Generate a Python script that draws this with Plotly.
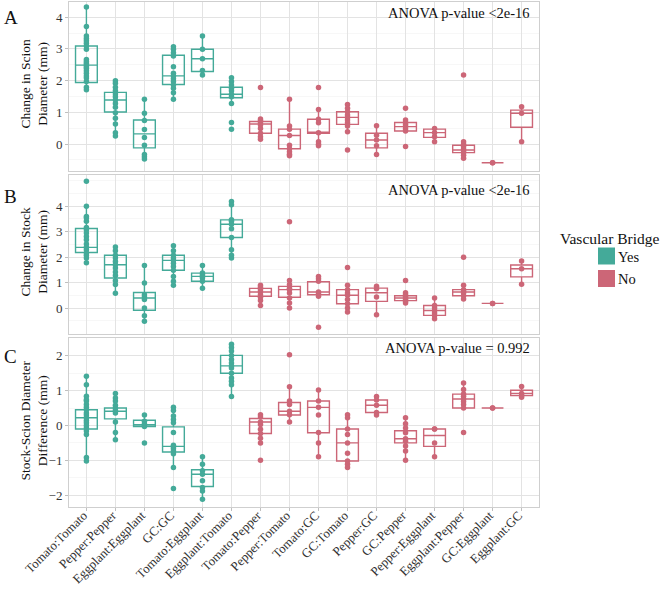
import plotly.graph_objects as go

categories = ["Tomato:Tomato", "Pepper:Pepper", "Eggplant:Eggplant", "GC:GC",
              "Tomato:Eggplant", "Eggplant:Tomato", "Tomato:Pepper", "Pepper:Tomato",
              "Tomato:GC", "GC:Tomato", "Pepper:GC", "GC:Pepper", "Pepper:Eggplant",
              "Eggplant:Pepper", "GC:Eggplant", "Eggplant:GC"]
bridge = ["Yes"] * 6 + ["No"] * 10

# ---- Panel A: change in scion diameter ----
scion_points = [
    [4.32, 3.71, 3.41, 3.33, 3.26, 3.18, 3.09, 2.99, 2.67, 2.6, 2.55, 2.49, 2.44, 2.39, 2.31, 2.23, 2.15, 2.08, 1.97, 1.79, 1.71],
    [2.0, 1.92, 1.79, 1.68, 1.58, 1.49, 1.39, 1.28, 1.16, 0.99, 0.81, 0.63, 0.36, 0.25],
    [1.41, 0.97, 0.74, 0.46, 0.21, -0.04, -0.33, -0.4, -0.47],
    [3.07, 2.99, 2.88, 2.78, 2.44, 2.23, 2.15, 2.06, 1.97, 1.86, 1.76, 1.62, 1.41],
    [3.41, 2.99, 2.69, 2.32, 2.18],
    [2.09, 1.97, 1.86, 1.76, 1.68, 1.57, 1.49, 1.28, 0.68, 0.47],
    [1.78, 0.79, 0.74, 0.67, 0.6, 0.49, 0.34, 0.23, 0.15],
    [1.41, 0.57, 0.47, 0.27, -0.04, -0.15, -0.24, -0.32, -0.37],
    [1.78, 1.09, 0.78, 0.67, 0.36, 0.07, -0.01, -0.05],
    [1.25, 1.13, 1.02, 0.92, 0.84, 0.76, 0.67, 0.57, 0.39, -0.19],
    [0.58, 0.28, 0.13, -0.05, -0.33],
    [1.13, 0.76, 0.68, 0.62, 0.55, 0.48, 0.41, -0.08],
    [0.49, 0.36, 0.23, 0.07],
    [2.18, 0.07, -0.01, -0.08, -0.16, -0.21, -0.27, -0.35, -0.45],
    [-0.59, -0.59],
    [1.18, 0.97, 0.07],
]
scion_q1 = [1.94, 1.01, -0.12, 1.88, 2.29, 1.46, 0.34, -0.15, 0.34, 0.62, -0.12, 0.41, 0.21, -0.27, -0.59, 0.53]
scion_med = [2.49, 1.39, 0.32, 2.15, 2.69, 1.57, 0.63, 0.27, 0.36, 0.84, 0.13, 0.55, 0.36, -0.19, -0.59, 0.97]
scion_q3 = [3.09, 1.63, 0.76, 2.80, 2.99, 1.79, 0.71, 0.47, 0.78, 1.02, 0.34, 0.68, 0.47, -0.04, -0.59, 1.07]
scion_lo = [1.68, 0.25, -0.47, 1.41, 2.18, 1.28, 0.15, -0.37, -0.05, 0.39, -0.33, 0.41, 0.07, -0.45, -0.59, 0.07]
scion_hi = [4.32, 2.0, 1.41, 3.07, 3.41, 2.09, 0.79, 1.41, 1.09, 1.25, 0.58, 0.76, 0.49, 0.07, -0.59, 1.18]

# ---- Panel B: change in stock diameter ----
stock_points = [
    [4.97, 3.99, 3.59, 3.53, 3.4, 3.16, 3.07, 2.94, 2.81, 2.68, 2.51, 2.38, 2.29, 2.16, 2.07, 1.96, 1.78],
    [2.39, 2.25, 2.07, 1.96, 1.83, 1.7, 1.57, 1.41, 1.28, 1.07, 0.92, 0.58],
    [1.67, 0.98, 0.52, 0.43, 0.33, 0.0, -0.3, -0.52],
    [2.44, 2.25, 2.07, 1.96, 1.87, 1.76, 1.63, 1.48, 1.24, 1.05, 0.89],
    [1.67, 1.37, 1.31, 1.24, 1.18, 1.05, 0.78],
    [4.18, 4.05, 3.46, 3.4, 3.29, 3.11, 2.77, 2.29, 2.07, 1.96],
    [0.89, 0.81, 0.72, 0.63, 0.52, 0.42, 0.29, 0.1],
    [3.39, 1.08, 0.92, 0.78, 0.72, 0.59, 0.39, 0.2, 0.0],
    [1.24, 1.15, 1.05, 0.63, 0.55, 0.46, -0.76],
    [1.59, 0.89, 0.72, 0.59, 0.5, 0.33, 0.17, 0.0, -0.16],
    [0.85, 0.76, 0.43, -0.26],
    [1.08, 0.6, 0.52, 0.46, 0.39, 0.33, 0.26, 0.2],
    [0.39, 0.1, 0.0, -0.1, -0.2, -0.29, -0.42],
    [1.99, 0.89, 0.72, 0.65, 0.59, 0.48, 0.35],
    [0.18, 0.18],
    [1.84, 1.54, 0.93],
]
stock_q1 = [2.18, 1.18, -0.09, 1.48, 1.05, 2.77, 0.46, 0.42, 0.52, 0.17, 0.26, 0.29, -0.29, 0.48, 0.18, 1.22]
stock_med = [2.38, 1.70, 0.39, 1.87, 1.24, 3.29, 0.63, 0.72, 0.63, 0.50, 0.60, 0.39, -0.10, 0.63, 0.18, 1.54]
stock_q3 = [3.12, 2.07, 0.61, 2.07, 1.37, 3.46, 0.77, 0.85, 1.03, 0.72, 0.78, 0.48, 0.10, 0.72, 0.18, 1.69]
stock_lo = [1.78, 0.58, -0.52, 0.89, 0.78, 1.96, 0.10, 0.0, 0.46, -0.16, -0.26, 0.20, -0.42, 0.35, 0.18, 0.93]
stock_hi = [3.99, 2.39, 1.67, 2.44, 1.67, 4.18, 0.89, 1.08, 1.24, 0.89, 0.85, 0.60, 0.39, 0.89, 0.18, 1.84]

# ---- Panel C: stock-scion diameter difference ----
diff_points = [
    [1.41, 1.17, 0.84, 0.74, 0.7, 0.6, 0.52, 0.45, 0.36, 0.3, 0.22, 0.14, 0.08, 0.0, -0.07, -0.16, -0.26, -0.92, -1.02],
    [0.92, 0.79, 0.7, 0.58, 0.5, 0.43, 0.36, 0.1, -0.2, -0.41],
    [0.3, 0.12, 0.05, 0.0, -0.03, -0.5],
    [0.52, 0.43, 0.27, 0.17, 0.08, -0.2, -0.57, -0.62, -0.67, -0.73, -0.81, -1.21, -1.81],
    [-0.9, -1.11, -1.3, -1.4, -1.59, -1.78, -1.88, -2.12],
    [2.33, 2.24, 2.14, 2.01, 1.89, 1.79, 1.71, 1.65, 1.5, 1.36, 1.27, 1.17, 0.83],
    [0.31, 0.24, 0.1, 0.03, -0.11, -0.23, -0.37, -0.5, -1.0],
    [2.03, 1.11, 0.7, 0.6, 0.41, 0.31, 0.1],
    [1.02, 0.7, 0.52, 0.3, -0.2, -0.5, -0.9],
    [0.31, 0.22, -0.1, -0.26, -0.5, -0.8, -1.02, -1.11, -1.21],
    [0.83, 0.73, 0.58, 0.37, 0.3],
    [0.22, 0.05, -0.07, -0.21, -0.38, -0.45, -0.59, -0.73, -1.0],
    [-0.1, -0.1, -0.5, -0.9],
    [1.22, 1.03, 0.9, 0.84, 0.76, 0.69, 0.6, 0.5, -0.2],
    [0.5, 0.5],
    [1.12, 0.92, 0.86, 0.81],
]
diff_q1 = [-0.10, 0.19, -0.03, -0.76, -1.75, 1.50, -0.23, 0.30, -0.21, -1.02, 0.37, -0.50, -0.60, 0.50, 0.50, 0.86]
diff_med = [0.22, 0.41, 0.02, -0.60, -1.40, 1.71, 0.10, 0.41, 0.52, -0.50, 0.58, -0.38, -0.29, 0.76, 0.50, 0.92]
diff_q3 = [0.45, 0.50, 0.15, -0.04, -1.27, 2.01, 0.20, 0.66, 0.70, -0.10, 0.73, -0.15, -0.10, 0.90, 0.50, 1.01]
diff_lo = [-1.02, -0.41, -0.03, -1.21, -2.12, 0.83, -0.50, 0.10, -0.90, -1.21, 0.30, -1.00, -0.90, 0.50, 0.50, 0.81]
diff_hi = [1.41, 0.92, 0.30, 0.52, -0.90, 2.33, 0.31, 1.11, 1.02, 0.31, 0.83, 0.22, -0.10, 1.22, 0.50, 1.12]

panel_titles = ["Change in Scion<br>Diameter (mm)", "Change in Stock<br>Diameter (mm)",
                "Stock-Scion Diameter<br>Difference (mm)"]
panel_letters = ["A", "B", "C"]
anova_labels = ["ANOVA p-value <2e-16", "ANOVA p-value <2e-16", "ANOVA p-value = 0.992"]
y_ranges = [[-0.85, 4.48], [-1.02, 5.22], [-2.34, 2.51]]
y_ticks = [[0, 1, 2, 3, 4], [0, 1, 2, 3, 4], [-2, -1, 0, 1, 2]]

colors = {"Yes": "#44AA99", "No": "#CC6677"}
legend_labels = ["Yes", "No"]

W, H = 666, 590
SERIF = "Liberation Serif, Times New Roman, serif"

panels = [
    (scion_points, scion_q1, scion_med, scion_q3, scion_lo, scion_hi),
    (stock_points, stock_q1, stock_med, stock_q3, stock_lo, stock_hi),
    (diff_points, diff_q1, diff_med, diff_q3, diff_lo, diff_hi),
]
# panel vertical extents in pixels (top, bottom)
panel_px = [(2, 171), (175, 334), (338, 507)]
x_px = (69, 539)

fig = go.Figure()
for p, (pts, q1, med, q3, lo, hi) in enumerate(panels):
    xa = "x" if p == 0 else f"x{p + 1}"
    ya = "y" if p == 0 else f"y{p + 1}"
    for grp in legend_labels:
        idx = [i for i, b in enumerate(bridge) if b == grp]
        fig.add_trace(go.Box(
            x=[categories[i] for i in idx],
            q1=[q1[i] for i in idx], median=[med[i] for i in idx],
            q3=[q3[i] for i in idx], lowerfence=[lo[i] for i in idx],
            upperfence=[hi[i] for i in idx],
            width=0.75, whiskerwidth=0, boxpoints=False,
            fillcolor="rgba(255,255,255,0)",
            line=dict(color=colors[grp], width=1.4),
            xaxis=xa, yaxis=ya, showlegend=False, hoverinfo="skip"))
    for grp in legend_labels:
        xs, ys = [], []
        for i, b in enumerate(bridge):
            if b == grp:
                xs += [categories[i]] * len(pts[i])
                ys += pts[i]
        fig.add_trace(go.Scatter(
            x=xs, y=ys, mode="markers",
            marker=dict(color=colors[grp], size=5.5, line=dict(width=0)),
            xaxis=xa, yaxis=ya, showlegend=False, hoverinfo="skip"))

layout = dict(
    width=W, height=H, margin=dict(l=0, r=0, t=0, b=0, autoexpand=False),
    paper_bgcolor="white", plot_bgcolor="white",
    font=dict(family=SERIF, color="#222222"),
    showlegend=False, boxmode="overlay",
)
annotations = []
shapes = []
for p in range(3):
    top, bot = panel_px[p]
    xkey = "xaxis" if p == 0 else f"xaxis{p + 1}"
    ykey = "yaxis" if p == 0 else f"yaxis{p + 1}"
    yname = "y" if p == 0 else f"y{p + 1}"
    xname = "x" if p == 0 else f"x{p + 1}"
    layout[xkey] = dict(
        domain=[x_px[0] / W, x_px[1] / W], anchor=yname, automargin=False,
        type="category", categoryorder="array", categoryarray=categories,
        range=[-0.6, len(categories) - 0.4],
        showgrid=True, gridcolor="#E3E3E3", gridwidth=1,
        showline=True, linecolor="#CFCFCF", linewidth=1, mirror=True,
        zeroline=False, showticklabels=(p == 2),
        ticks="outside" if p == 2 else "", ticklen=3, tickcolor="#BFBFBF",
        tickangle=-45, ticklabelshift=-3, ticklabelstandoff=-8,
        tickfont=dict(size=12.8, color="#333333", family=SERIF),
    )
    layout[ykey] = dict(
        domain=[1 - bot / H, 1 - top / H], anchor=xname, automargin=False,
        range=y_ranges[p], tickvals=y_ticks[p],
        showgrid=True, gridcolor="#E3E3E3", gridwidth=1,
        minor=dict(dtick=0.5, tick0=0.5, showgrid=True, gridcolor="#F1F1F1", gridwidth=0.6),
        showline=True, linecolor="#CFCFCF", linewidth=1, mirror=True,
        zeroline=False, ticks="outside", ticklen=3, tickcolor="#BFBFBF",
        tickfont=dict(size=13, color="#333333", family=SERIF),
    )
    mid = (top + bot) / 2
    annotations.append(dict(text=panel_titles[p], x=34 / W, y=1 - (mid - 2) / H,
                            xref="paper", yref="paper", textangle=-90,
                            xanchor="center", yanchor="middle", showarrow=False,
                            font=dict(size=13.5, color="#111111", family=SERIF)))
    annotations.append(dict(text=panel_letters[p], x=2 / W,
                            y=1 - [17.5, 197, 356][p] / H, xref="paper", yref="paper",
                            xanchor="left", yanchor="middle", showarrow=False,
                            font=dict(size=19, color="#111111", family=SERIF)))
    annotations.append(dict(text=anova_labels[p], x=532 / W,
                            y=1 - [13, 190, 348][p] / H, xref="paper", yref="paper",
                            xanchor="right", yanchor="middle", showarrow=False,
                            font=dict(size=14.5, color="#111111", family=SERIF)))

# legend (drawn as keys + labels)
annotations.append(dict(text="Vascular Bridge", x=558 / W, y=1 - 238 / H,
                        xref="paper", yref="paper", xanchor="left", yanchor="middle",
                        showarrow=False, font=dict(size=15.5, color="#111111", family=SERIF)))
key_tops = [247.5, 270]
for k, grp in enumerate(legend_labels):
    t = key_tops[k]
    shapes.append(dict(type="rect", xref="paper", yref="paper",
                       x0=598 / W, x1=615 / W, y0=1 - (t + 17) / H, y1=1 - t / H,
                       fillcolor=colors[grp], line=dict(width=0)))
    annotations.append(dict(text=grp, x=616 / W, y=1 - (t + 9) / H,
                            xref="paper", yref="paper", xanchor="left", yanchor="middle",
                            showarrow=False, font=dict(size=14.5, color="#111111", family=SERIF)))

layout["annotations"] = annotations
layout["shapes"] = shapes
fig.update_layout(**layout)
fig.write_html("out.html", config={"displayModeBar": False, "staticPlot": True},
               post_script="document.body.style.margin='0px';document.body.style.overflow='hidden';")
